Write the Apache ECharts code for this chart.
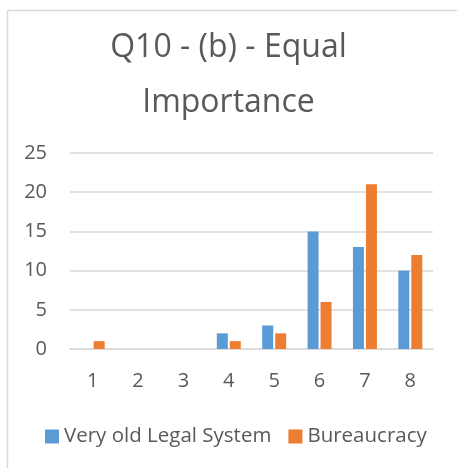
<!DOCTYPE html>
<html>
<head>
<meta charset="utf-8">
<script src="https://cdn.jsdelivr.net/npm/echarts@6/dist/echarts.min.js"></script>
<style>
	html, body { margin: 0; padding: 0; background: #fff; }
	#chart { width: 457px; height: 468px; }
</style>
</head>
<body>
<div id="chart"></div>
<script>
// 数据
var categories = ["1", "2", "3", "4", "5", "6", "7", "8"];
var legalSystem = [0, 0, 0, 2, 3, 15, 13, 10];
var bureaucracy = [1, 0, 0, 1, 2, 6, 21, 12];
var seriesNames = ["Very old Legal System", "Bureaucracy"];

var textColor = "#595959";
var lineColor = "#d9d9d9";
var font = "Open Sans";

var myChart = echarts.init(document.getElementById("chart"));

var option = {
	animation: false,
	color: ["#5b9bd5", "#ed7d31"],
	graphic: [
		{
			type: "rect",
			left: 5,
			top: 8,
			shape: { width: 500, height: 500 },
			style: { fill: "none", stroke: lineColor, lineWidth: 1.5 },
		},
	],
	title: {
		text: "Q10 - (b) - Equal\nImportance",
		left: "center",
		top: 15,
		textStyle: {
			color: textColor,
			fontFamily: font,
			fontWeight: "normal",
			fontSize: 32,
			lineHeight: 55,
		},
	},
	legend: {
		data: seriesNames,
		left: 40,
		top: 421,
		itemWidth: 14,
		itemHeight: 14,
		itemGap: 17,
		icon: "rect",
		textStyle: { color: textColor, fontFamily: font, fontSize: 20.5 },
	},
	grid: { left: 70, right: 24, top: 153, bottom: 119 },
	xAxis: {
		type: "category",
		data: categories,
		axisLine: { lineStyle: { color: lineColor, width: 1.5 } },
		axisTick: { show: false },
		axisLabel: { color: textColor, fontFamily: font, fontSize: 20, margin: 22 },
	},
	yAxis: {
		type: "value",
		min: 0,
		max: 25,
		interval: 5,
		axisLine: { show: false },
		axisTick: { show: false },
		axisLabel: { color: textColor, fontFamily: font, fontSize: 20, margin: 23 },
		splitLine: { lineStyle: { color: lineColor, width: 1.5 } },
	},
	series: [
		{
			name: seriesNames[0],
			type: "bar",
			data: legalSystem,
			barWidth: 11,
			barGap: "18%",
		},
		{
			name: seriesNames[1],
			type: "bar",
			data: bureaucracy,
			barWidth: 11,
			barGap: "18%",
		},
	],
};

myChart.setOption(option);
</script>
</body>
</html>
